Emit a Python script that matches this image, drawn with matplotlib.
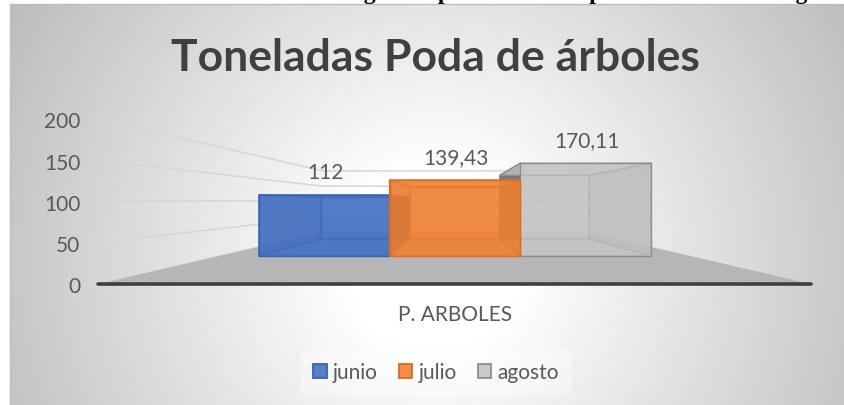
import numpy as np
import matplotlib
matplotlib.use('Agg')
import matplotlib.pyplot as plt
from matplotlib.patches import Patch
from matplotlib.colors import to_rgba
from matplotlib.transforms import offset_copy
from mpl_toolkits.mplot3d import proj3d
from mpl_toolkits.mplot3d.art3d import Poly3DCollection

# ---------------- data ----------------
caption = 'Gráfica 1. Toneladas de residuos vegetales producto de la poda de árboles en agosto'
title = 'Toneladas Poda de árboles'
category = 'P. ARBOLES'
series = ['junio', 'julio', 'agosto']
values = [112, 139.43, 170.11]
value_labels = ['112', '139,43', '170,11']
yticks = [0, 50, 100, 150, 200]

# ---------------- style ----------------
bar_colors = ['#4472C4', '#EF8236', '#C4C4C4']
edge_colors = ['#3763B4', '#DD6B1E', '#8E8E8E']
bar_z = [3.0, 3.4, 3.2]
text_color = '#595959'

W, H, DPI = 845, 406, 100
plt.rcParams['font.family'] = ['Lato', 'DejaVu Sans']
fig = plt.figure(figsize=(W / DPI, H / DPI), dpi=DPI)

# ---------------- chart-area background (radial gradient) ----------------
bg = fig.add_axes([10 / W, 0, 1 - 10 / W, 1 - 5 / H], zorder=0)
xs = np.arange(10, W) + 0.5
ys = np.arange(5, H) + 0.5
XX, YY = np.meshgrid(xs, ys)
dist = np.hypot(XX - 435, YY - 260)
light = 1 - 0.26 * np.clip((dist - 90) / 400, 0, 1)
bg.imshow(np.dstack([light] * 3), extent=(10, W, H, 5), aspect='auto',
          interpolation='bilinear')
bg.set_xlim(10, W)
bg.set_ylim(H, 5)
bg.set_xticks([])
bg.set_yticks([])
for s in ['right', 'bottom']:
    bg.spines[s].set_visible(False)
for s in ['top', 'left']:
    bg.spines[s].set_color('#bdbdbd')
    bg.spines[s].set_linewidth(1)

# ---------------- 3D plot ----------------
ax = fig.add_axes([21 / W, -230.4 / H, 1.0, W / H], projection='3d',
                  computed_zorder=False, zorder=1)
ax.patch.set_alpha(0)

n = len(values)
bar_w = 1.0
x0, x1 = -1.8, 1.8          # floor width
d0, d1 = 0.0, 2.43          # floor depth
bd0, bd1 = 0.74, 1.74       # bar depth range
vmax = yticks[-1]

# wall gridlines (left wall + back wall)
for v in yticks:
    ax.plot([x0, x0, x1], [d0, d1, d1], [v, v, v], color='#d6d6d6', lw=1.1,
            zorder=1)

# floor
floor = Poly3DCollection([[(x0, d0, 0), (x1, d0, 0), (x1, d1, 0), (x0, d1, 0)]],
                         facecolors='#b6b6b6', edgecolors='none', zorder=2)
ax.add_collection3d(floor)
ax.plot([x0, x1], [d0, d0], [0, 0], color='#3f3f3f', lw=2.6,
        solid_capstyle='round', zorder=2.5)


def box_faces(xa, xb, ya, yb, h):
    return [
        [(xa, yb, 0), (xb, yb, 0), (xb, yb, h), (xa, yb, h)],  # back
        [(xa, ya, 0), (xa, yb, 0), (xa, yb, h), (xa, ya, h)],  # left
        [(xb, ya, 0), (xb, yb, 0), (xb, yb, h), (xb, ya, h)],  # right
        [(xa, ya, 0), (xb, ya, 0), (xb, yb, 0), (xa, yb, 0)],  # bottom
        [(xa, ya, h), (xb, ya, h), (xb, yb, h), (xa, yb, h)],  # top
        [(xa, ya, 0), (xb, ya, 0), (xb, ya, h), (xa, ya, h)],  # front
    ]


def shade(rgba, f, a):
    c = np.array(to_rgba(rgba))
    c[:3] *= f
    return to_rgba(c, a)


label_anchors = []
for i, v in enumerate(values):
    xa = i - n / 2 * bar_w
    xb = xa + bar_w
    a = 0.72
    # side faces seen from outside (away from the view centre) are darker
    left_f = 0.45 if xa > 0 else 0.88
    right_f = 0.45 if xb < 0 else 0.88
    c = bar_colors[i]
    fc = [shade(c, 1, a), shade(c, left_f, a), shade(c, right_f, a),
          shade(c, 1, a), shade(c, 1, a), shade(c, 1, a)]
    pc = Poly3DCollection(box_faces(xa, xb, bd0, bd1, v), facecolors=fc,
                          edgecolors=edge_colors[i], linewidths=1.0,
                          zorder=bar_z[i])
    ax.add_collection3d(pc)
    label_anchors.append(((xa + xb) / 2, bd0, v))

ax.set_xlim(x0, x1, view_margin=0)
ax.set_ylim(d0, d1, view_margin=0)
ax.set_zlim(0, vmax, view_margin=0)
ax.set_box_aspect((x1 - x0, d1 - d0, 0.8333), zoom=0.5448)
ax.view_init(elev=0, azim=-90, roll=0)
ax.set_proj_type('persp', focal_length=0.0622)
ax.set_axis_off()

# project 3D anchor points with the axes' own projection, place 2D texts
M = ax.get_proj()


def put_text(x, y, z, s, dx, dy, **kw):
    px, py, _ = proj3d.proj_transform(x, y, z, M)
    ax.text2D(float(px), float(py), s,
              transform=offset_copy(ax.transData, fig=fig, x=dx, y=dy,
                                    units='dots'),
              fontsize=15, color=text_color, **kw)


for (bx, by, bz), lab in zip(label_anchors, value_labels):
    put_text(bx, by, bz, lab, 1, 17, ha='center', va='baseline')

for v in yticks:
    put_text(x0, d0, v, f'{v}', -18, -2.5, ha='right', va='center')

put_text(0, d0, 0, category, 0, -30, ha='center', va='center')

# ---------------- titles ----------------
fig.text(435 / W, 1 - 58 / H, title, ha='center', va='center', fontsize=32,
         fontweight='bold', color='#404040', zorder=5)
fig.text(428 / W, 1 + 0.5 / H, caption, ha='center', va='baseline',
         fontsize=17, fontweight='bold', family='Liberation Serif',
         color='black', zorder=5)

# ---------------- legend ----------------
handles = [Patch(facecolor=to_rgba(c, 0.9), edgecolor=e, lw=1.3)
           for c, e in zip(bar_colors, edge_colors)]
leg = fig.legend(handles, series, loc='center',
                 bbox_to_anchor=(436 / W, 1 - 373 / H), ncol=3, fontsize=15,
                 frameon=True, fancybox=False, edgecolor='none',
                 facecolor='white', framealpha=0.35, handlelength=0.65,
                 handleheight=0.65, handletextpad=0.3, columnspacing=1.0,
                 labelcolor=text_color, borderpad=0.6)
leg.set_zorder(5)

fig.savefig('out.png', dpi=DPI)
